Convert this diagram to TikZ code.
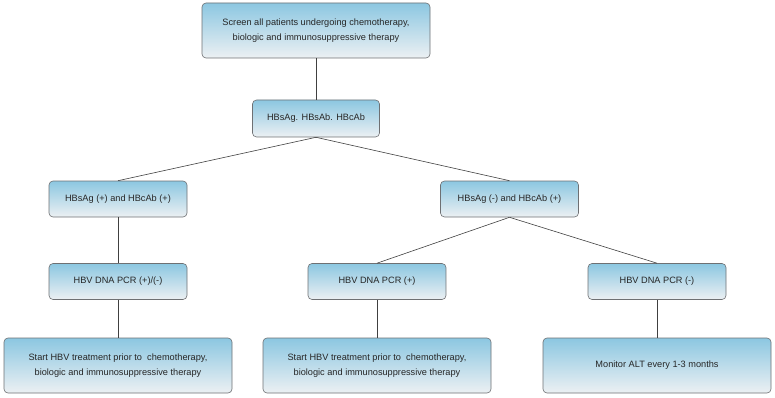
\documentclass[tikz,border=0pt]{standalone}
\usepackage{fontspec}
\setmainfont{Liberation Sans}
\definecolor{boxtop}{RGB}{140,199,225}
\definecolor{boxbot}{RGB}{236,240,243}
\definecolor{boxline}{RGB}{110,112,115}

\begin{document}
\begin{tikzpicture}[x=1pt,y=-1pt,inner sep=2pt,
  box/.style={draw=boxline,line width=0.6pt,rounded corners=4pt,top color=boxtop,bottom color=boxbot,
    align=center,font=\fontsize{9.2}{14.5}\selectfont,text=black!85},
  wide/.style={box,minimum width=228pt,minimum height=55pt},
  small/.style={box,minimum width=138pt,minimum height=36pt},
  link/.style={draw=black!75,line width=0.6pt}]
  \useasboundingbox(0,0)rectangle(775,398);
  % screening
  \node[wide](screen)at(316,30.5){Screen all patients undergoing chemotherapy,\\biologic and immunosuppressive therapy};
  \node[box,minimum width=127pt,minimum height=37pt](tests)at(316,118.5){HBsAg. HBsAb. HBcAb};
  % serology branches
  \node[small](sagpos)at(118,199){HBsAg (+) and HBcAb (+)};
  \node[small](sagneg)at(509.5,199){HBsAg (-) and HBcAb (+)};
  \node[small](pcrany)at(118,281.5){HBV DNA PCR (+)/(-)};
  \node[small](pcrpos)at(377,281.5){HBV DNA PCR (+)};
  \node[small](pcrneg)at(657,281.5){HBV DNA PCR (-)};
  % actions
  \node[wide](treatl)at(118,365.5){Start HBV treatment prior to\ \ chemotherapy,\\biologic and immunosuppressive therapy};
  \node[wide](treatm)at(377,365.5){Start HBV treatment prior to\ \ chemotherapy,\\biologic and immunosuppressive therapy};
  \node[wide](monitor)at(657,365.5){Monitor ALT every 1-3 months};

  \draw[link](screen.south)--(tests.north);
  \draw[link](tests.south)--(sagpos.north);
  \draw[link](tests.south)--(sagneg.north);
  \draw[link](sagpos.south)--(pcrany.north);
  \draw[link](sagneg.south)--(pcrpos.north);
  \draw[link](sagneg.south)--(pcrneg.north);
  \draw[link](pcrany.south)--(treatl.north);
  \draw[link](pcrpos.south)--(treatm.north);
  \draw[link](pcrneg.south)--(monitor.north);
\end{tikzpicture}
\end{document}
